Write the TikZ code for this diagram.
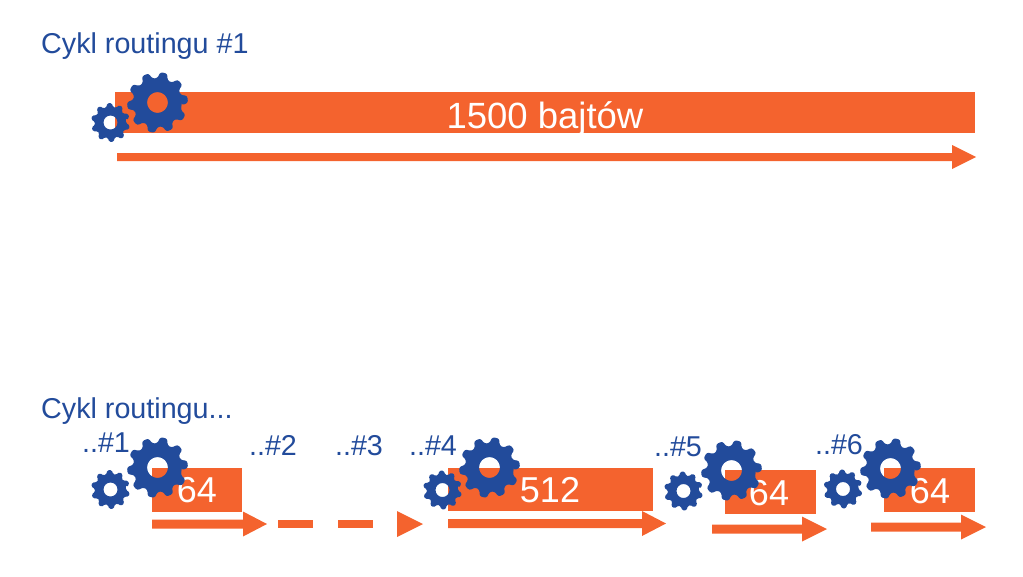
\documentclass[tikz,border=0pt]{standalone}
\usepackage{fontspec}
\setmainfont{Liberation Sans}
\definecolor{barorange}{HTML}{F4632E}
\definecolor{gearblue}{HTML}{224B9B}
\tikzset{
  bar/.style={fill=barorange,draw=none},
  title/.style={text=gearblue,font=\fontsize{28.7}{30}\selectfont,inner sep=0pt,anchor=west},
  run/.style={text=gearblue,font=\fontsize{28.7}{30}\selectfont,inner sep=0pt},
  barlabel/.style={text=white,inner sep=0pt},
  bigtext/.style={barlabel,font=\fontsize{36.5}{40}\selectfont},
  midtext/.style={barlabel,font=\fontsize{36}{40}\selectfont},
  pics/gear/.style n args={3}{code={
    % #1 outer radius, #2 hole radius, #3 rotation
    \fill[gearblue,even odd rule,rounded corners=#1*0.07pt]
      ({#3-12.5}:{#1*0.8pt})
      \foreach \k in {0,36,...,324}{
        -- ({#3+\k-12.5}:{#1*0.8pt}) -- ({#3+\k-6.5}:{#1*1pt}) -- ({#3+\k+6.5}:{#1*1pt}) -- ({#3+\k+12.5}:{#1*0.8pt})
      } -- cycle
      (0,0) circle[radius=#2*1pt];
  }}
}
\newcommand{\blockarrow}[4]{% x start, x neck, x tip, y centre
  \fill[barorange] (#1,#4-4.5) -- (#2,#4-4.5) -- (#2,#4-12.5) -- (#3,#4) -- (#2,#4+12.5) -- (#2,#4+4.5) -- (#1,#4+4.5) -- cycle;}
\begin{document}
\begin{tikzpicture}[x=1pt,y=-1pt]
\useasboundingbox (0,0) rectangle (1023,576);
\node[title] (t1) at (41,46) {Cykl routingu \#1};
\node[title] (t2) at (41,411) {Cykl routingu...};
% bars
\fill[bar] (115,92) rectangle (975,133);
\fill[bar] (152,468) rectangle (242,512);
\fill[bar] (448,468) rectangle (653,511);
\fill[bar] (725,470) rectangle (816,514);
\fill[bar] (884,468) rectangle (975,512);
% bar labels
\node[bigtext] (b0) at (545,119) {1500 bajtów};
\node[midtext] (b1) at (197,490) {64};
\node[midtext] (b4) at (550,490) {512};
\node[midtext] (b5) at (769,493) {64};
\node[midtext] (b6) at (930,491) {64};
% arrows
\fill[barorange] (117,153) -- (952,153) -- (952,145) -- (976,157) -- (952,169) -- (952,161) -- (117,161) -- cycle;
\blockarrow{152}{243}{267}{524}
\fill[barorange] (278,519.5) rectangle (313,528);
\fill[barorange] (338,519.5) rectangle (373,528);
\fill[barorange] (397,511) -- (423,524) -- (397,537) -- cycle;
\blockarrow{448}{642}{666}{523.5}
\blockarrow{712}{802}{827}{529}
\blockarrow{871}{961}{986}{527}
% run labels
\node[run] (r1) at (106,443) {..\#1};
\node[run] (r2) at (273,445.5) {..\#2};
\node[run] (r3) at (359,445.5) {..\#3};
\node[run] (r4) at (433,445.5) {..\#4};
\node[run] (r5) at (678,446.5) {..\#5};
\node[run] (r6) at (839,444.5) {..\#6};
% gears
\pic at (110.5,122.5) {gear={19.5}{7}{21}};
\pic at (157.5,102.5) {gear={30.5}{10.5}{6}};
\pic at (110.5,489.5) {gear={19.5}{7}{21}};
\pic at (157.5,467.5) {gear={30.5}{10.5}{6}};
\pic at (442.5,490) {gear={19.5}{7}{21}};
\pic at (489.5,467.5) {gear={30.5}{10.5}{6}};
\pic at (683.5,491) {gear={19.5}{7}{21}};
\pic at (731.5,470.5) {gear={30.5}{10.5}{6}};
\pic at (843,489) {gear={19.5}{7}{21}};
\pic at (890.5,468.5) {gear={30.5}{10.5}{6}};
\end{tikzpicture}
\end{document}
